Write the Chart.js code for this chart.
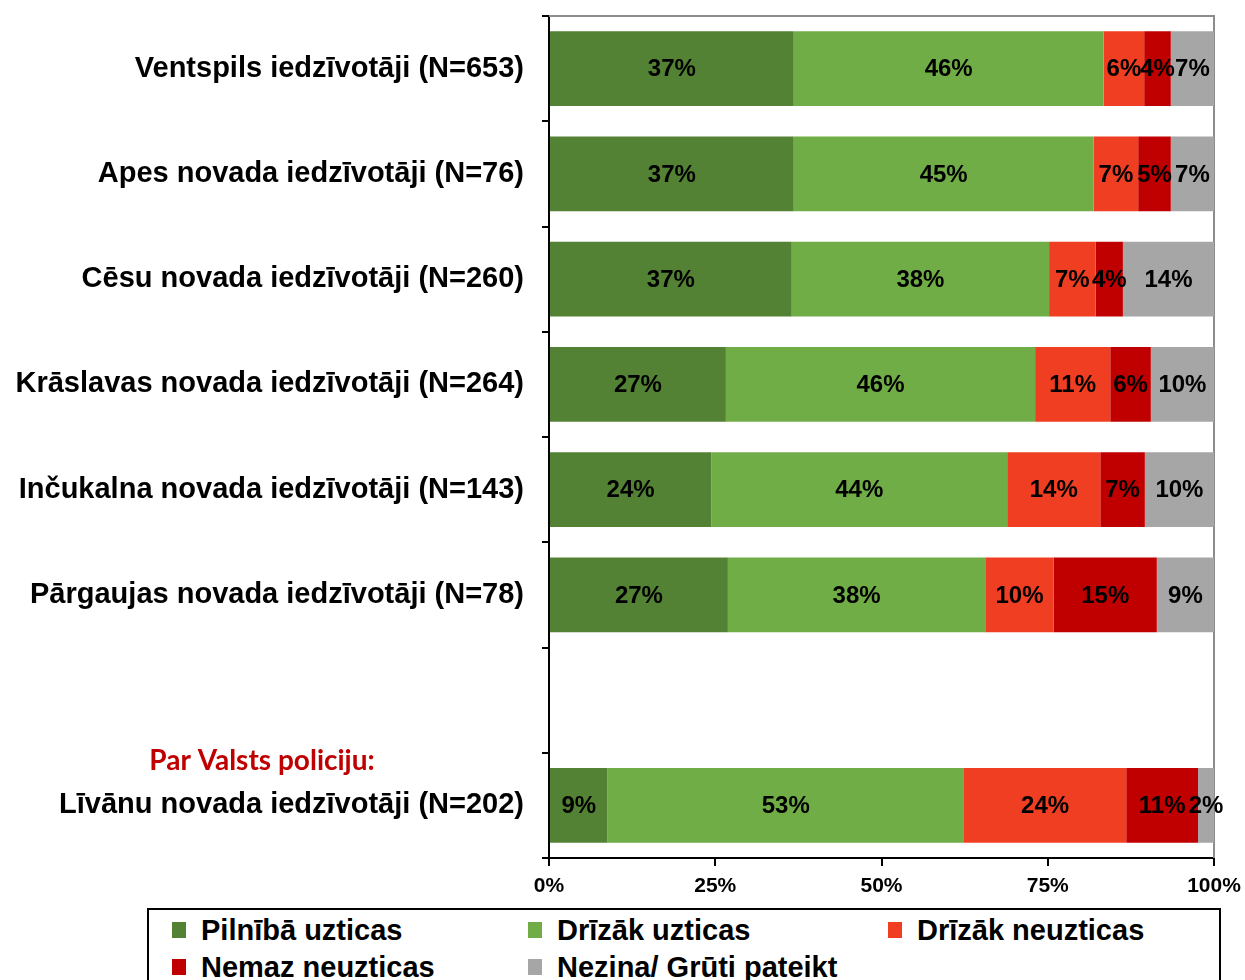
<!DOCTYPE html>
<html>
<head>
<meta charset="utf-8">
<script src="https://cdn.jsdelivr.net/npm/chart.js@4"></script>
<style>
    body { margin: 0; background: #fff; }
    #wrap { position: relative; width: 1245px; height: 980px; overflow: hidden; }
    #legend {
        position: absolute; left: 147px; top: 908px; width: 1074px; height: 90px;
        border: 2px solid #000; box-sizing: border-box; background: #fff;
        font-family: 'Liberation Sans', Arial, sans-serif; font-weight: bold; font-size: 29px;
    }
    .item { position: absolute; white-space: nowrap; line-height: 30px; }
    .box { position: absolute; left: 0; top: 7px; width: 14px; height: 16px; }
    .item span { position: absolute; left: 29px; top: 0; }
</style>
</head>
<body>
<div id="wrap">
    <canvas id="chart" width="1245" height="980"></canvas>
    <div id="legend"></div>
</div>
<script>
const categories = [
    'Ventspils iedzīvotāji (N=653)',
    'Apes novada iedzīvotāji (N=76)',
    'Cēsu novada iedzīvotāji (N=260)',
    'Krāslavas novada iedzīvotāji (N=264)',
    'Inčukalna novada iedzīvotāji (N=143)',
    'Pārgaujas novada iedzīvotāji (N=78)',
    '',
    'Līvānu novada iedzīvotāji (N=202)'
];

const seriesNames = ['Pilnībā uzticas', 'Drīzāk uzticas', 'Drīzāk neuzticas', 'Nemaz neuzticas', 'Nezina/ Grūti pateikt'];
const seriesColors = ['#548235', '#70ad47', '#f03e23', '#c00000', '#a6a6a6'];

// bar lengths (%)
const pilnibaUzticas  = [36.8, 36.8, 36.5, 26.6, 24.4, 26.9, null, 8.8];
const drizakUzticas   = [46.6, 45.1, 38.7, 46.5, 44.5, 38.7, null, 53.6];
const drizakNeuzticas = [6.1, 6.7, 7.0, 11.3, 14.0, 10.3, null, 24.4];
const nemazNeuzticas  = [4.0, 4.9, 4.1, 6.1, 6.7, 15.5, null, 10.8];
const nezina          = [6.5, 6.5, 13.7, 9.5, 10.4, 8.6, null, 2.4];

// printed labels
const pilnibaLabels  = ['37%', '37%', '37%', '27%', '24%', '27%', '', '9%'];
const drizakULabels  = ['46%', '45%', '38%', '46%', '44%', '38%', '', '53%'];
const drizakNLabels  = ['6%', '7%', '7%', '11%', '14%', '10%', '', '24%'];
const nemazLabels    = ['4%', '5%', '4%', '6%', '7%', '15%', '', '11%'];
const nezinaLabels   = ['7%', '7%', '14%', '10%', '10%', '9%', '', '2%'];

const xTicks = [0, 25, 50, 75, 100];
const noteText = 'Par Valsts policiju:';

const FONT = "'Liberation Sans', Arial, sans-serif";

const seriesValues = [pilnibaUzticas, drizakUzticas, drizakNeuzticas, nemazNeuzticas, nezina];
const seriesLabels = [pilnibaLabels, drizakULabels, drizakNLabels, nemazLabels, nezinaLabels];

const barLabelPlugin = {
    id: 'barLabels',
    afterDatasetsDraw(chart) {
        const ctx = chart.ctx;
        ctx.save();
        ctx.font = 'bold 24px ' + FONT;
        ctx.fillStyle = '#000';
        ctx.textAlign = 'center';
        ctx.textBaseline = 'middle';
        chart.data.datasets.forEach((ds, i) => {
            const meta = chart.getDatasetMeta(i);
            meta.data.forEach((bar, j) => {
                const text = seriesLabels[i][j];
                if (!text) return;
                const p = bar.getCenterPoint();
                ctx.fillText(text, p.x, p.y + 1);
            });
        });
        ctx.restore();
    }
};

const frameAndNotePlugin = {
    id: 'frameAndNote',
    beforeDatasetsDraw(chart) {
        const { ctx, chartArea } = chart;
        ctx.save();
        ctx.strokeStyle = '#8c8c8c';
        ctx.lineWidth = 2;
        ctx.beginPath();
        ctx.moveTo(chartArea.left, chartArea.top);
        ctx.lineTo(chartArea.right, chartArea.top);
        ctx.lineTo(chartArea.right, chartArea.bottom);
        ctx.stroke();
        ctx.restore();
    },
    afterDraw(chart) {
        const ctx = chart.ctx;
        const y = chart.scales.y.getPixelForValue(7) - 44;
        ctx.save();
        ctx.font = "bold 28px Lato, 'Open Sans', sans-serif";
        ctx.fillStyle = '#c00000';
        ctx.textAlign = 'center';
        ctx.textBaseline = 'middle';
        ctx.fillText(noteText, 262, y);
        ctx.restore();
    }
};

new Chart(document.getElementById('chart'), {
    type: 'bar',
    data: {
        labels: categories,
        datasets: seriesNames.map((name, i) => ({
            label: name,
            data: seriesValues[i],
            backgroundColor: seriesColors[i],
            borderWidth: 0,
            barPercentage: 0.71,
            categoryPercentage: 1
        }))
    },
    options: {
        indexAxis: 'y',
        responsive: false,
        animation: false,
        layout: { padding: { top: 16, right: 31, bottom: 80, left: 0 } },
        plugins: {
            legend: { display: false },
            tooltip: { enabled: false }
        },
        scales: {
            x: {
                stacked: true,
                min: 0,
                max: 100,
                afterBuildTicks(scale) {
                    scale.ticks = xTicks.map(v => ({ value: v }));
                },
                afterFit(scale) {
                    scale.height = 42;
                    scale.paddingLeft = 0;
                    scale.paddingRight = 0;
                },
                ticks: {
                    callback: v => v + '%',
                    color: '#000',
                    font: { family: FONT, size: 21, weight: 'bold' },
                    padding: 8,
                    maxRotation: 0
                },
                grid: { drawOnChartArea: false, tickLength: 8, color: '#000', lineWidth: 2 },
                border: { display: true, color: '#000', width: 2 }
            },
            y: {
                stacked: true,
                offset: true,
                afterFit(scale) {
                    scale.width = 549;
                    scale.paddingTop = 0;
                    scale.paddingBottom = 0;
                },
                ticks: {
                    color: '#000',
                    font: { family: FONT, size: 29, weight: 'bold' },
                    padding: 18
                },
                grid: { offset: true, drawOnChartArea: false, tickLength: 7, color: '#000', lineWidth: 2 },
                border: { display: true, color: '#000', width: 2 }
            }
        }
    },
    plugins: [barLabelPlugin, frameAndNotePlugin]
});

// legend drawn as html, 3 columns
const legendEl = document.getElementById('legend');
const colX = [23, 379, 739];
seriesNames.forEach((name, i) => {
    const item = document.createElement('div');
    item.className = 'item';
    item.style.left = colX[i % 3] + 'px';
    item.style.top = (i < 3 ? 5 : 42) + 'px';
    item.innerHTML = '<div class="box" style="background:' + seriesColors[i] + '"></div><span>' + name + '</span>';
    legendEl.appendChild(item);
});
</script>
</body>
</html>
